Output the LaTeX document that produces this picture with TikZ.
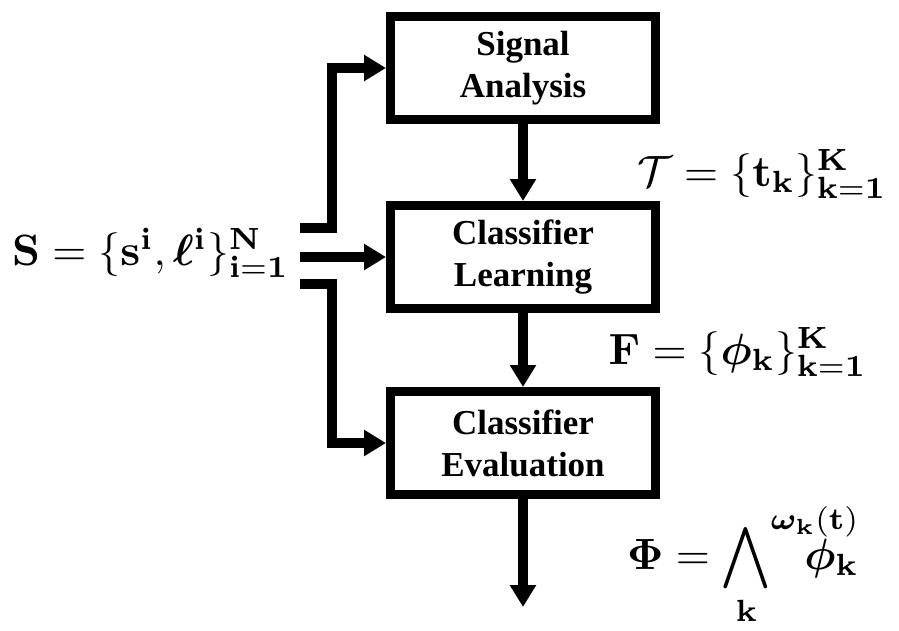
\documentclass[tikz,border=0pt]{standalone}
\usepackage{amsmath,amssymb,mathtools,bm,graphicx}
\usepackage[no-math]{fontspec}
\newfontfamily\boxfont{Liberation Serif}
\usetikzlibrary{arrows.meta}
\newcommand{\biglab}[1]{\scalebox{4.38}{#1}}
\begin{document}
\begin{tikzpicture}[x=1pt,y=-1pt,
  blockbox/.style={draw, line width=9pt, minimum width=265pt, minimum height=103pt,
    align=center, font=\boxfont\bfseries\fontsize{35}{42}\selectfont, inner sep=0pt,
    execute at begin node={\rule{0pt}{31pt}}},
  conn/.style={line width=10pt, miter limit=10, line join=miter,
    -{Triangle[length=22pt,width=25pt]}},
  lab/.style={inner sep=0pt}]
\useasboundingbox (0,0) rectangle (899,630);
\node[blockbox] (sa) at (523,68) {Signal\\Analysis};
\node[blockbox] (cl) at (523,257) {Classifier\\Learning};
\node[blockbox] (ce) at (523,443) {Classifier\\Evaluation};
\coordinate (in1) at (300,228);
\coordinate (in2) at (300,257);
\coordinate (in3) at (300,284);
\coordinate (out) at (523,607);
\draw[conn] (in1) -- ++(32,0) |- (sa.west);
\draw[conn] (in2) -- (cl.west);
\draw[conn] (in3) -- ++(32,0) |- (ce.west);
\draw[conn] (sa.south) -- (cl.north);
\draw[conn] (cl.south) -- (ce.north);
\draw[conn] (ce.south) -- (out);
\node[lab, anchor=base west] (slab) at (12,265) {\biglab{$\mathbf{S}=\{\mathbf{s}^{\mathbf{i}},\bm{\ell}^{\mathbf{i}}\}_{\mathbf{i=1}}^{\mathbf{N}}$}};
\node[lab, anchor=base east] (tlab) at (887,186) {\biglab{$\mathcal{T}=\{\mathbf{t}_{\mathbf{k}}\}_{\mathbf{k=1}}^{\mathbf{K}}$}};
\node[lab, anchor=base east] (flab) at (867,364) {\biglab{$\mathbf{F}=\{\bm{\phi}_{\mathbf{k}}\}_{\mathbf{k=1}}^{\mathbf{K}}$}};
\node[lab, anchor=base west] (plab) at (627,569) {\biglab{$\bm{\Phi}={\displaystyle\bigwedge_{\mathbf{k}}}^{\mathrlap{\raisebox{1pt}{$\scriptstyle\bm{\omega}_{\mathbf{k}}(\mathbf{t})$}}}\mkern13mu\bm{\phi}_{\mathbf{k}}$}};
\end{tikzpicture}
\end{document}
